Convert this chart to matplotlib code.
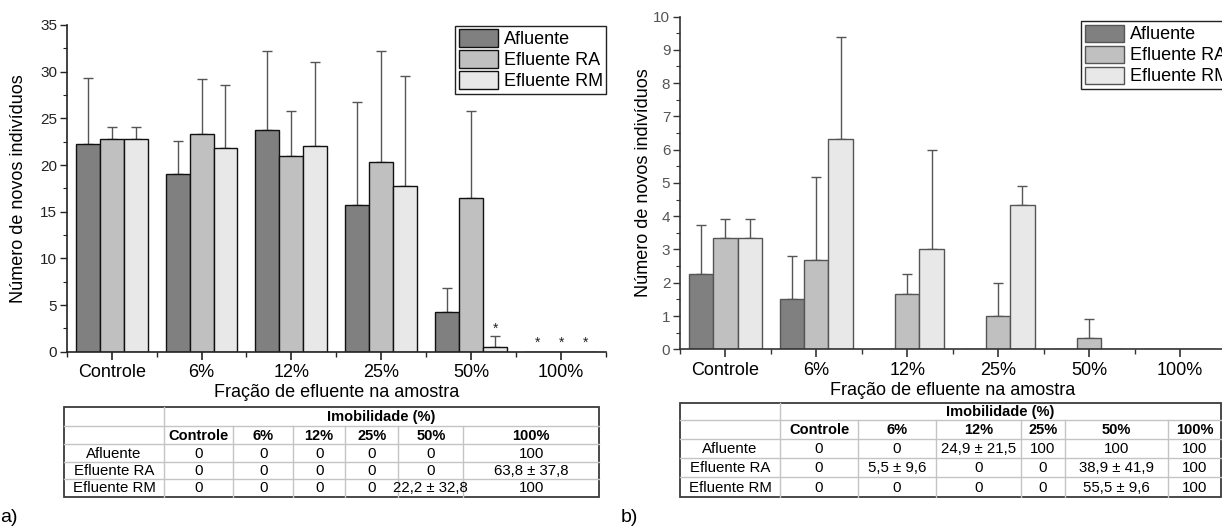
import matplotlib
matplotlib.use("Agg")
import matplotlib.pyplot as plt
from matplotlib.patches import Rectangle
from matplotlib.ticker import MultipleLocator, FixedLocator
import numpy as np

plt.rcParams['font.family'] = ['Liberation Sans', 'DejaVu Sans']

# ---------------- data ----------------
categories = ["Controle", "6%", "12%", "25%", "50%", "100%"]
series = ["Afluente", "Efluente RA", "Efluente RM"]

# panel a) – new individuals (mean) and upper error (SD)
a_afluente = [22.3, 19.0, 23.7, 15.7, 4.3, 0.0]
a_afluente_err = [7.0, 3.6, 8.5, 11.0, 2.5, 0.0]
a_ra = [22.8, 23.3, 21.0, 20.3, 16.5, 0.0]
a_ra_err = [1.3, 5.9, 4.8, 11.9, 9.3, 0.0]
a_rm = [22.8, 21.8, 22.0, 17.7, 0.5, 0.0]
a_rm_err = [1.3, 6.8, 9.0, 11.8, 1.2, 0.0]
# significance marks: (category index, series index, height)
a_marks = [(4, 2, 2.95), (5, 0, 1.43), (5, 1, 1.43), (5, 2, 1.43)]

# panel b)
b_afluente = [2.25, 1.5, 0.0, 0.0, 0.0, 0.0]
b_afluente_err = [1.5, 1.29, 0.0, 0.0, 0.0, 0.0]
b_ra = [3.33, 2.67, 1.67, 1.0, 0.33, 0.0]
b_ra_err = [0.58, 2.52, 0.58, 1.0, 0.58, 0.0]
b_rm = [3.33, 6.33, 3.0, 4.33, 0.0, 0.0]
b_rm_err = [0.58, 3.06, 3.0, 0.58, 0.0, 0.0]

# immobility tables
table_title = "Imobilidade (%)"
a_table = [
    ["0", "0", "0", "0", "0", "100"],
    ["0", "0", "0", "0", "0", "63,8 ± 37,8"],
    ["0", "0", "0", "0", "22,2 ± 32,8", "100"],
]
b_table = [
    ["0", "0", "24,9 ± 21,5", "100", "100", "100"],
    ["0", "5,5 ± 9,6", "0", "0", "38,9 ± 41,9", "100"],
    ["0", "0", "0", "0", "55,5 ± 9,6", "100"],
]

colors = ["#808080", "#c0c0c0", "#e8e8e8"]

W, H = 1222, 531
fig = plt.figure(figsize=(W / 100, H / 100), dpi=100)


def px_axes(x0, y0, x1, y1):
    return fig.add_axes([x0 / W, 1 - y1 / H, (x1 - x0) / W, (y1 - y0) / H])


def bar_panel(ax, vals, errs, edge, errcol, ymax, ymajor, yminor, ytickcol,
              spinecol, ylabel_x):
    x = np.arange(len(categories))
    w = 0.8 / 3
    for i, (v, e) in enumerate(zip(vals, errs)):
        xs = x + (i - 1) * w
        for xi, vi, ei in zip(xs, v, e):
            if ei > 0:
                ax.errorbar([xi], [vi], yerr=[[0], [ei]], fmt="none",
                            ecolor=errcol, elinewidth=1.0, capsize=3.5,
                            capthick=1.0, zorder=1)
        ax.bar(xs, v, width=w, color=colors[i], edgecolor=edge,
               linewidth=1.0, label=series[i], zorder=2)
    ax.set_xlim(-0.5, len(categories) - 0.5)
    ax.set_ylim(0, ymax)
    ax.set_xticks(x)
    ax.set_xticklabels(categories, fontsize=13)
    ax.xaxis.set_minor_locator(FixedLocator(np.arange(-0.5, len(categories), 1.0)))
    ax.yaxis.set_major_locator(MultipleLocator(ymajor))
    ax.yaxis.set_minor_locator(MultipleLocator(yminor))
    for s in ("top", "right"):
        ax.spines[s].set_visible(False)
    for s in ("left", "bottom"):
        ax.spines[s].set_color(spinecol)
        ax.spines[s].set_linewidth(1.2)
    ax.tick_params(axis="x", which="major", direction="out", length=6,
                   width=1.2, color=spinecol, pad=3)
    ax.tick_params(axis="x", which="minor", direction="out", length=3.5,
                   width=1.0, color=spinecol)
    ax.tick_params(axis="y", which="major", direction="out", length=5,
                   width=1.0, color=spinecol, labelsize=11, labelcolor=ytickcol, pad=2)
    ax.tick_params(axis="y", which="minor", direction="out", length=3,
                   width=0.8, color=spinecol)
    ax.set_ylabel("Número de novos indivíduos", fontsize=13)
    ax.yaxis.set_label_coords(ylabel_x, 0.5)
    ax.set_xlabel("Fração de efluente na amostra", fontsize=13, labelpad=2)


def make_legend(ax, left, top):
    leg = ax.legend(loc="upper left", bbox_to_anchor=(left / W, 1 - top / H),
                    bbox_transform=fig.transFigure, borderaxespad=0,
                    fontsize=13, handlelength=2.2, handleheight=1.1,
                    labelspacing=0.12, borderpad=0.2, handletextpad=0.3,
                    fancybox=False, framealpha=1)
    leg.get_frame().set_edgecolor("#222222")
    leg.get_frame().set_linewidth(1.0)
    return leg


# ---------------- panel a ----------------
axa = px_axes(66.7, 25.0, 606, 351.7)
bar_panel(axa, [a_afluente, a_ra, a_rm], [a_afluente_err, a_ra_err, a_rm_err],
          "#111111", "#555555", 35, 5, 2.5, "#222222", "#222222",
          (27 - 66.7) / (606 - 66.7))
w = 0.8 / 3
for ci, si, h in a_marks:
    axa.annotate("*", xy=(ci + (si - 1) * w, h), xytext=(0, -6),
                 textcoords="offset points", ha="center", va="baseline",
                 fontsize=10, color="#222222")
make_legend(axa, 455, 25.7)

# ---------------- panel b ----------------
axb = px_axes(680, 16.5, 1225.5, 349.3)
bar_panel(axb, [b_afluente, b_ra, b_rm], [b_afluente_err, b_ra_err, b_rm_err],
          "#555555", "#555555", 10, 1, 0.5, "#555555", "#333333",
          (652 - 680) / (1225.5 - 680))
make_legend(axb, 1081, 21)

# ---------------- tables and panel labels ----------------
ov = fig.add_axes([0, 0, 1, 1])
ov.set_xlim(0, W)
ov.set_ylim(H, 0)
ov.axis("off")


def draw_table(xs, ys, cells, fs=10.8):
    grid = "#c4c4c4"
    for y in ys[1:-1]:
        ov.plot([xs[0], xs[-1]], [y, y], color=grid, lw=1.0)
    ov.plot([xs[1], xs[1]], [ys[0], ys[-1]], color=grid, lw=1.0)
    for x in xs[2:-1]:
        ov.plot([x, x], [ys[1], ys[-1]], color=grid, lw=1.0)
    ov.add_patch(Rectangle((xs[0], ys[0]), xs[-1] - xs[0], ys[-1] - ys[0],
                           fill=False, edgecolor="#3a3a3a", lw=1.3))
    ov.text((xs[1] + xs[-1]) / 2, (ys[0] + ys[1]) / 2 + 0.5, table_title,
            ha="center", va="center", fontsize=fs - 0.3, fontweight="bold")
    for j, c in enumerate(categories):
        ov.text((xs[j + 1] + xs[j + 2]) / 2, (ys[1] + ys[2]) / 2 + 0.5, c,
                ha="center", va="center", fontsize=fs - 0.3, fontweight="bold")
    for i, name in enumerate(series):
        yc = (ys[i + 2] + ys[i + 3]) / 2 + 0.5
        ov.text((xs[0] + xs[1]) / 2, yc, name, ha="center", va="center", fontsize=fs)
        for j, val in enumerate(cells[i]):
            ov.text((xs[j + 1] + xs[j + 2]) / 2, yc, val, ha="center",
                    va="center", fontsize=fs)


draw_table([64, 164.3, 233.3, 293.3, 345, 398.3, 463.3, 599],
           [407.3, 426, 444.3, 461.7, 479.3, 496.7], a_table)
draw_table([680, 780, 858, 935.5, 1021, 1065, 1168, 1221],
           [403, 420, 439, 458, 477, 497], b_table)

ov.text(0, 518, "a)", ha="left", va="center", fontsize=14)
ov.text(621, 518, "b)", ha="left", va="center", fontsize=14)

fig.savefig("out.png", dpi=100)
